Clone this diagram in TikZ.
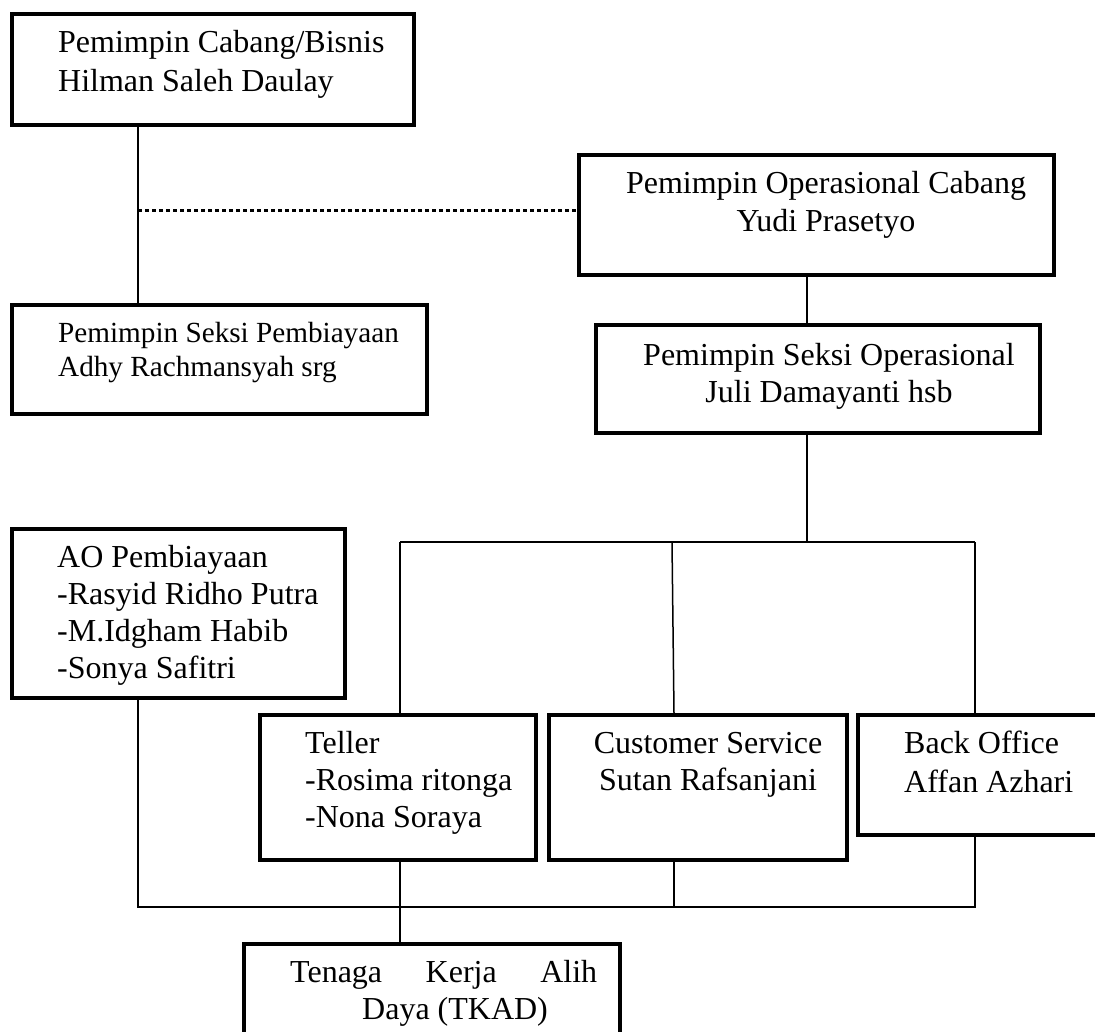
\documentclass[tikz,border=0pt]{standalone}
\usepackage{fontspec}
\setmainfont{Liberation Serif}
\begin{document}
\begin{tikzpicture}[x=1pt,y=-1pt,
  box/.style={draw, line width=3.6pt, inner sep=0pt, anchor=north west},
  conn/.style={line width=1.5pt},
  dots/.style={line width=3pt, dash pattern=on 3.5pt off 3.5pt},
  txt/.style={inner sep=0pt, anchor=base west, align=left, font=\fontsize{32}{37.5}\selectfont},
  ctxt/.style={inner sep=0pt, anchor=base, align=center, font=\fontsize{32}{37.5}\selectfont}]
\useasboundingbox (0,0) rectangle (1095,1032);
% boxes
\node[box, minimum width=402pt, minimum height=111pt] (b1) at (10,12) {};
\node[box, minimum width=475pt, minimum height=120pt] (b2) at (577,153) {};
\node[box, minimum width=415pt, minimum height=109pt] (b3) at (10,303) {};
\node[box, minimum width=444pt, minimum height=108pt] (b4) at (594,323) {};
\node[box, minimum width=333pt, minimum height=169pt] (b5) at (10,527) {};
\node[box, minimum width=276pt, minimum height=145pt] (b6) at (258,713) {};
\node[box, minimum width=298pt, minimum height=145pt] (b7) at (547,713) {};
\node[box, minimum width=244pt, minimum height=120pt] (b8) at (856,713) {};
\node[box, minimum width=376pt, minimum height=105pt] (b9) at (242,942) {};
% texts (anchor = baseline of last line)
\node[txt, font=\fontsize{32}{39}\selectfont] (t1) at (58,92) {Pemimpin Cabang/Bisnis\\Hilman Saleh Daulay};
\node[ctxt, font=\fontsize{32}{38}\selectfont] (t2) at (826,232) {Pemimpin Operasional Cabang\\Yudi Prasetyo};
\node[txt, font=\fontsize{29.2}{34}\selectfont] (t3) at (58,376) {Pemimpin Seksi Pembiayaan\\Adhy Rachmansyah srg};
\node[ctxt, font=\fontsize{32}{37}\selectfont] (t4) at (829,402) {Pemimpin Seksi Operasional\\Juli Damayanti hsb};
\node[txt, font=\fontsize{32}{36.7}\selectfont] (t5) at (57,678) {AO Pembiayaan\\-Rasyid Ridho Putra\\-M.Idgham Habib\\-Sonya Safitri};
\node[txt, font=\fontsize{32}{37}\selectfont] (t6) at (305,827) {Teller\\-Rosima ritonga\\-Nona Soraya};
\node[ctxt, font=\fontsize{32}{37}\selectfont] (t7) at (708,790) {Customer Service\\Sutan Rafsanjani};
\node[txt, font=\fontsize{32}{39}\selectfont] (t8) at (904,792) {Back Office\\Affan Azhari};
\node[txt, font=\fontsize{32}{37}\selectfont] (t9) at (290,1019) {\makebox[307pt][s]{Tenaga Kerja Alih}\\\hspace*{72pt}Daya (TKAD)};
% connectors
\coordinate (j1) at (138,211);
\draw[conn] ([xshift=128pt]b1.south west) -- ([xshift=128pt]b3.north west);
\draw[dots] (j1) -- (j1 -| b2.west);
\draw[conn] ([xshift=230pt]b2.south west) -- ([xshift=230pt]b2.south west |- b4.north);
\coordinate (h1) at (807,542);
\coordinate (hl) at (400,542);
\coordinate (hm) at (672,542);
\coordinate (hr) at (975,542);
\draw[conn] ([xshift=213pt]b4.south west) -- (h1);
\draw[conn] (hl) -- (hr);
\draw[conn] (hl) -- (hl |- b6.north);
\draw[conn] (hm) -- ([xshift=127pt]b7.north west);
\draw[conn] (hr) -- (hr |- b8.north);
\coordinate (gl) at (138,907);
\coordinate (gr) at (975,907);
\draw[conn] ([xshift=128pt]b5.south west) -- (gl) -- (gr) -- (gr |- b8.south);
\draw[conn] ([xshift=142pt]b6.south west) -- ([xshift=142pt]b6.south west |- b9.north);
\draw[conn] ([xshift=127pt]b7.south west) -- ([xshift=127pt]b7.south west |- gl);
\end{tikzpicture}
\end{document}
